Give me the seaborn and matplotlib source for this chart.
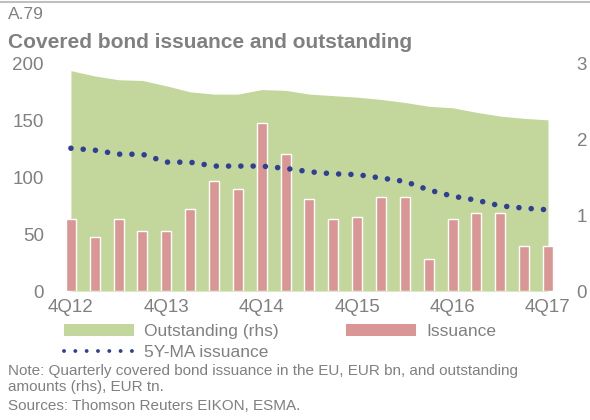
import numpy as np
import pandas as pd
import matplotlib.pyplot as plt
import seaborn as sns
from matplotlib.patches import Patch
from matplotlib.lines import Line2D

# data
quarters = ['4Q12', '1Q13', '2Q13', '3Q13', '4Q13', '1Q14', '2Q14', '3Q14', '4Q14',
            '1Q15', '2Q15', '3Q15', '4Q15', '1Q16', '2Q16', '3Q16', '4Q16',
            '1Q17', '2Q17', '3Q17', '4Q17']
issuance = [63, 48, 63, 53, 53, 72, 97, 90, 148, 121, 81, 63, 65, 83, 83, 28, 63, 69, 69, 40, 40]
ma_issuance = [125.7, 124, 120.5, 120.4, 113.5, 113.4, 110, 110, 110, 108, 105, 103.2,
               102.5, 99.5, 96.5, 89, 83.5, 80, 75, 73, 71.5]
outstanding = [2.91, 2.84, 2.79, 2.78, 2.71, 2.63, 2.60, 2.60, 2.66, 2.65, 2.60, 2.58,
               2.56, 2.53, 2.49, 2.44, 2.42, 2.36, 2.31, 2.28, 2.26]
tick_labels = ['4Q12', '4Q13', '4Q14', '4Q15', '4Q16', '4Q17']

df = pd.DataFrame({'quarter': quarters, 'issuance': issuance,
                   'ma': ma_issuance, 'outstanding': outstanding})
df['pos'] = np.arange(len(df))

sns.set_style('white')
plt.rcParams['font.family'] = ['Liberation Sans', 'DejaVu Sans']

grey = '#808080'
green = '#C3D69B'
pink = '#D99694'
navy = '#2E3F95'

fig = plt.figure(figsize=(5.9, 4.2), dpi=100)
ax = fig.add_axes([0.1, 0.307, 0.849, 0.541])
ax2 = ax.twinx()

# outstanding area on right axis (behind)
ax2.fill_between(df['pos'], 0, df['outstanding'], color=green, linewidth=0)
ax2.set_ylim(0, 3)
ax2.set_yticks([0, 1, 2, 3])

# issuance bars and moving average on left axis
sns.barplot(data=df, x='pos', y='issuance', color=pink, width=0.42,
            saturation=1, ax=ax, native_scale=True)
sns.lineplot(data=df, x='pos', y='ma', color=navy, linewidth=4.0, ax=ax,
             linestyle=(0, (0.01, 2.2)), dash_capstyle='round')

ax.set_zorder(ax2.get_zorder() + 1)
ax.patch.set_visible(False)

ax.set_xlim(-0.5, len(df) - 0.5)
ax.set_ylim(0, 200)
ax.set_yticks([0, 50, 100, 150, 200])
ax.set_xticks(df['pos'][::4])
ax.set_xticklabels(tick_labels)
ax.set_xlabel('')
ax.set_ylabel('')

for a in (ax, ax2):
    for s in a.spines.values():
        s.set_visible(False)
    a.tick_params(length=0, labelsize=13.5, colors=grey)
ax.tick_params(axis='x', pad=6)
ax.tick_params(axis='y', pad=11)
ax2.tick_params(axis='y', pad=12)

# titles
fig.add_artist(Line2D([0.0, 1.0], [0.995, 0.995], color='#BFBFBF', linewidth=1.5))
fig.text(0.014, 0.966, 'A.79', fontsize=12.5, color=grey, va='center')
fig.text(0.014, 0.9, 'Covered bond issuance and outstanding', fontsize=15,
         color=grey, fontweight='bold', va='center')

# legend
handles = [Patch(facecolor=green, edgecolor='none'),
           Line2D([0], [0], color=navy, linewidth=2.8, linestyle=(0, (0.01, 2.9)),
                  dash_capstyle='round'),
           Patch(facecolor=pink, edgecolor='none')]
labels = ['Outstanding (rhs)', '5Y-MA issuance', 'Issuance']
leg = fig.legend(handles, labels, ncol=2, loc='upper left',
                 bbox_to_anchor=(0.097, 0.245), frameon=False, fontsize=12.5,
                 handlelength=4.0, handletextpad=0.6, columnspacing=3.9,
                 labelspacing=0.32, borderaxespad=0)
for t in leg.get_texts():
    t.set_color(grey)

# note
fig.text(0.014, 0.098, 'Note: Quarterly covered bond issuance in the EU, EUR bn, and outstanding\n'
         'amounts (rhs), EUR tn.', fontsize=11, color=grey, va='center',
         linespacing=1.15)
fig.text(0.014, 0.033, 'Sources: Thomson Reuters EIKON, ESMA.', fontsize=11,
         color=grey, va='center')

fig.savefig('out.png', dpi=100)
